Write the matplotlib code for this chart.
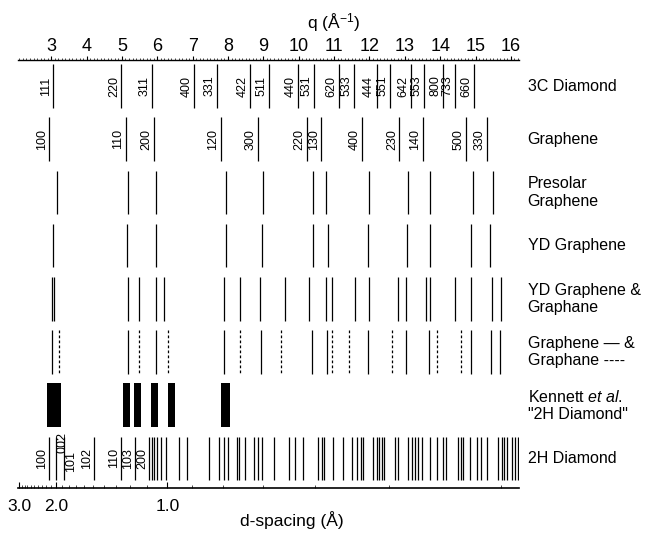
import numpy as np
import matplotlib.pyplot as plt
from matplotlib.ticker import MultipleLocator

plt.rcParams['font.family'] = ['Liberation Sans', 'DejaVu Sans']
plt.rcParams['mathtext.fontset'] = 'custom'
plt.rcParams['mathtext.rm'] = 'Liberation Sans'
plt.rcParams['mathtext.it'] = 'Liberation Sans:italic'

# q positions (1/Angstrom)
diamond_3c_q = [3.05, 4.98, 5.84, 7.05, 7.68, 8.63, 9.15, 9.97, 10.42, 11.14,
                11.55, 12.20, 12.58, 13.18, 13.53, 14.09, 14.42, 14.95]
diamond_3c_hkl = ["111", "220", "311", "400", "331", "422", "511", "440", "531", "620",
                  "533", "444", "551", "642", "553", "800", "733", "660"]

graphene_q = [2.95, 5.11, 5.90, 7.80, 8.85, 10.22, 10.63, 11.80, 12.85, 13.51, 14.74, 15.32]
graphene_hkl = ["100", "110", "200", "120", "300", "220", "130", "400", "230", "140", "500", "330"]

presolar_q = [3.17, 5.16, 5.97, 7.95, 8.98, 10.39, 10.78, 11.99, 13.08, 13.71, 14.92, 15.50]

yd_graphene_q = [3.05, 5.15, 5.97, 7.95, 8.96, 10.39, 10.82, 11.97, 13.06, 13.70, 14.86, 15.40]

yd_mixed_q = [3.01, 3.08, 5.16, 5.49, 5.95, 6.18, 7.90, 8.33, 8.91, 9.62, 10.28, 10.76,
              10.94, 11.60, 11.98, 12.82, 13.04, 13.60, 13.72, 14.42, 14.86, 15.47, 15.73]

model_graphene_q = [3.03, 5.16, 5.95, 7.88, 8.94, 10.37, 10.79, 11.95, 13.03, 13.69,
                    14.87, 15.44, 15.69]
model_graphane_q = [3.21, 5.47, 6.31, 8.33, 9.50, 10.94, 11.41, 12.65, 13.92, 14.60]

kennett_lo = [2.87, 5.04, 5.35, 5.83, 6.31, 7.81]
kennett_hi = [3.29, 5.24, 5.55, 6.03, 6.51, 8.06]

diamond_2h_q = [2.946, 3.121, 3.347, 4.223, 4.986, 5.381, 5.777, 5.847, 5.918, 5.989,
                6.116, 6.257, 6.605, 6.836, 7.452, 7.734, 7.876, 7.989, 8.254, 8.305,
                8.489, 8.723, 8.836, 8.960, 9.288, 9.712, 9.901, 10.119, 10.559, 10.655,
                10.720, 10.975, 11.249, 11.503, 11.661, 11.757, 11.831, 12.096, 12.209,
                12.282, 12.350, 12.415, 12.726, 12.819, 13.102, 13.198, 13.291, 13.384,
                13.480, 13.715, 13.921, 14.090, 14.167, 14.514, 14.582, 14.655, 14.845,
                15.034, 15.147, 15.333, 15.644, 15.740, 15.805, 15.881, 16.023, 16.116,
                16.209]
diamond_2h_hkl = ["100", "002", "101", "102", "110", "103", "200"]

row_names = ["3C Diamond", "Graphene", "Presolar\nGraphene", "YD Graphene",
             "YD Graphene &\nGraphane", "Graphene \u2014 &\nGraphane ----",
             "Kennett $\\it{et\\ al.}$\n\"2H Diamond\"", "2H Diamond"]

q_ticks = list(range(3, 17))
d_ticks = [3.0, 2.0, 1.0]

H = 0.41
LW = 0.9

fig = plt.figure(figsize=(6.49, 5.37), dpi=100)
ax = fig.add_axes([18 / 649, 1 - 488 / 537, 501 / 649, 428 / 537])
ax.set_xlim(2.06, 16.23)
ax.set_ylim(7.556, -0.489)


def sticks(row, qs, **kw):
    ax.vlines(qs, row - H, row + H, colors='k', lw=LW, **kw)


def index_labels(row, qs, labels, dy=0.0, side=-1):
    for q, lab in zip(qs, labels):
        ax.annotate(lab, (q, row + dy), xytext=(side * 1.0, 0), textcoords='offset points',
                    rotation=90, ha='right' if side < 0 else 'left', va='center',
                    fontsize=9)


# 3C diamond
sticks(0, diamond_3c_q)
index_labels(0, diamond_3c_q, diamond_3c_hkl)

# graphene
sticks(1, graphene_q)
index_labels(1, graphene_q, graphene_hkl)

sticks(2, presolar_q)
sticks(3, yd_graphene_q)
sticks(4, yd_mixed_q)

sticks(5, model_graphene_q)
sticks(5, model_graphane_q, linestyles=(0, (2.2, 1.8)))

# Kennett et al. bands
k_lo = np.array(kennett_lo)
k_hi = np.array(kennett_hi)
ax.bar((k_lo + k_hi) / 2, 2 * H, width=k_hi - k_lo, bottom=6 - H, color='k')

# 2H diamond
sticks(7, diamond_2h_q)
h2 = diamond_2h_q
index_labels(7, [h2[0]], ["100"])
index_labels(7, [h2[1]], ["002"], dy=-0.3, side=1)
index_labels(7, [h2[2]], ["101"], dy=0.05, side=1)
index_labels(7, h2[3:7], diamond_2h_hkl[3:7])

for i, name in enumerate(row_names):
    ax.text(1.017, i, name, transform=ax.get_yaxis_transform(), ha='left', va='center',
            fontsize=11.5)

# bottom axis: d-spacing (twiny moves the host ticks, so build it first)
ax2 = ax.twiny()
ax2.set_xlim(ax.get_xlim())
ax2.xaxis.tick_bottom()
ax2.set_xticks([2 * np.pi / d for d in d_ticks])
ax2.set_xticklabels([f"{d:.1f}" for d in d_ticks])
d_minor = np.concatenate([np.arange(2.9, 1.05, -0.1), [0.9, 0.8, 0.7, 0.6, 0.5, 0.4]])
ax2.set_xticks(2 * np.pi / d_minor, minor=True)
ax2.tick_params(axis='x', which='major', direction='in', length=4, width=0.8,
                pad=8, labelsize=12.5)
ax2.tick_params(axis='x', which='minor', direction='in', length=2, width=0.5)
for s in ['left', 'right', 'top']:
    ax2.spines[s].set_visible(False)
ax2.spines['bottom'].set_linewidth(1.2)

# top axis: q
ax.xaxis.tick_top()
ax.set_xticks(q_ticks)
ax.xaxis.set_minor_locator(MultipleLocator(0.1))
ax.tick_params(axis='x', which='major', direction='out', length=3, width=0.8,
               pad=0.5, labelsize=13, top=True, bottom=False, labeltop=True, labelbottom=False)
ax.tick_params(axis='x', which='minor', direction='out', length=1.8, width=0.5,
               top=True, bottom=False)
ax.set_yticks([])
for s in ['left', 'right', 'bottom']:
    ax.spines[s].set_visible(False)
ax.spines['top'].set_linewidth(1.0)

fig.text(334 / 649, 1 - 23 / 537, "q (Å$^{-1}$)", ha='center', va='center', fontsize=12.5)
fig.text(292 / 649, 1 - 520 / 537, "d-spacing (Å)", ha='center', va='center', fontsize=12.5)

fig.savefig("out.png", dpi=100)
